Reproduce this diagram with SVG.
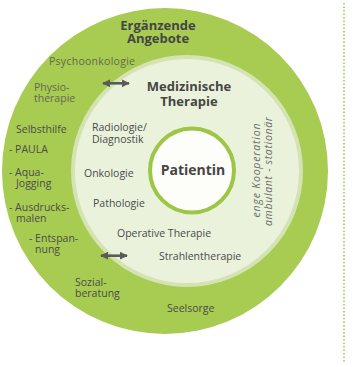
<svg xmlns="http://www.w3.org/2000/svg" width="353" height="367" viewBox="0 0 353 367">
<defs>
<style>
text{font-family:"Open Sans","Noto Sans",sans-serif;fill:#4b4b4b;font-size:10.5px}
.b{font-weight:bold;font-size:13px;fill:#454545}
.m{text-anchor:middle}
.lt{fill:#66684f}
.it{font-style:italic;fill:#6e6e6e;font-size:10.5px;text-anchor:middle}
.arr{stroke:#5a5a5a;stroke-width:2.6;fill:none}
</style>
<marker id="ah" viewBox="0 0 10 10" refX="9" refY="5" markerWidth="3.2" markerHeight="3.2" orient="auto-start-reverse" markerUnits="strokeWidth">
<path d="M0,0 L10,5 L0,10 Z" fill="#5a5a5a"/>
</marker>
</defs>
<line x1="344" y1="3" x2="344" y2="362" stroke="#9fc64a" stroke-width="1.5" stroke-dasharray="1.5 2"/>
<g id="ergaenzende-angebote">
<circle cx="165" cy="171" r="163" fill="#a8cb52"/>
<text class="b m" x="158" y="29.5">Ergänzende<tspan x="158" dy="13">Angebote</tspan></text>
<text class="lt" x="49" y="65" textLength="86" lengthAdjust="spacing">Psychoonkologie</text>
<text class="lt" x="34" y="90.5">Physio-<tspan x="34" dy="11.5">therapie</tspan></text>
<text x="16" y="133">Selbsthilfe</text>
<text x="9" y="153">- PAULA</text>
<text x="9" y="175.5">- Aqua-<tspan x="16" dy="11.5">Jogging</tspan></text>
<text x="9" y="210.5">- Ausdrucks-<tspan x="16" dy="11.5">malen</tspan></text>
<text x="29" y="241.5">- Entspan-<tspan x="35" dy="11.5">nung</tspan></text>
<text x="75" y="285.5">Sozial-<tspan x="75" dy="11.5">beratung</tspan></text>
<text x="167" y="312">Seelsorge</text>
</g>
<g id="medizinische-therapie">
<circle cx="187" cy="171" r="114" fill="#eaf2dc" stroke="#d3e4b2" stroke-width="4"/>
<text class="b m" x="189" y="91">Medizinische<tspan x="189" dy="15">Therapie</tspan></text>
<text x="92" y="131">Radiologie/<tspan x="92" dy="12">Diagnostik</tspan></text>
<text x="84" y="177">Onkologie</text>
<text x="93" y="207">Pathologie</text>
<text x="117" y="237">Operative Therapie</text>
<text x="159" y="260">Strahlentherapie</text>
<text class="it" transform="translate(260,170.5) rotate(-90)"><tspan textLength="94" lengthAdjust="spacing">enge Kooperation</tspan><tspan x="-1" dy="12" textLength="109" lengthAdjust="spacing">ambulant - stationär</tspan></text>
</g>
<g id="patientin">
<circle cx="192" cy="170.5" r="42" fill="#fdfdf9" stroke="#9dc646" stroke-width="4"/>
<text class="b m" x="193" y="175" style="font-size:14px">Patientin</text>
</g>
<g id="connectors">
<line class="arr" x1="103" y1="83.3" x2="129" y2="83.3" marker-start="url(#ah)" marker-end="url(#ah)"/>
<line class="arr" x1="101" y1="255.7" x2="127" y2="255.7" marker-start="url(#ah)" marker-end="url(#ah)"/>
</g>
</svg>
